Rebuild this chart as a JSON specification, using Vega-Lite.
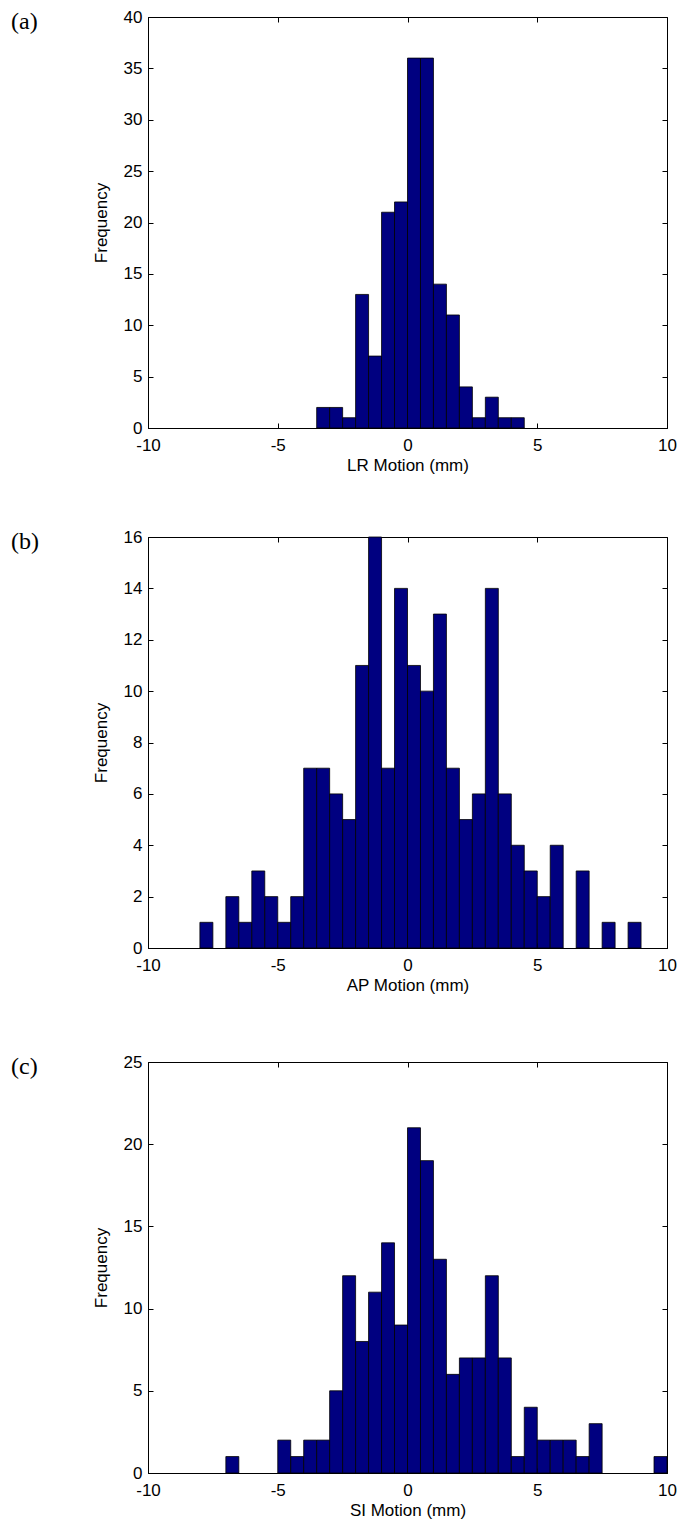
{
  "$schema": "https://vega.github.io/schema/vega-lite/v6.json",
  "background": "white",
  "padding": {"left": 10, "top": 7, "right": 0, "bottom": 5},
  "datasets": {
    "h": [
      {"p": "a", "s": -3.5, "e": -3, "n": 2},
      {"p": "a", "s": -3, "e": -2.5, "n": 2},
      {"p": "a", "s": -2.5, "e": -2, "n": 1},
      {"p": "a", "s": -2, "e": -1.5, "n": 13},
      {"p": "a", "s": -1.5, "e": -1, "n": 7},
      {"p": "a", "s": -1, "e": -0.5, "n": 21},
      {"p": "a", "s": -0.5, "e": 0, "n": 22},
      {"p": "a", "s": 0, "e": 0.5, "n": 36},
      {"p": "a", "s": 0.5, "e": 1, "n": 36},
      {"p": "a", "s": 1, "e": 1.5, "n": 14},
      {"p": "a", "s": 1.5, "e": 2, "n": 11},
      {"p": "a", "s": 2, "e": 2.5, "n": 4},
      {"p": "a", "s": 2.5, "e": 3, "n": 1},
      {"p": "a", "s": 3, "e": 3.5, "n": 3},
      {"p": "a", "s": 3.5, "e": 4, "n": 1},
      {"p": "a", "s": 4, "e": 4.5, "n": 1},
      {"p": "b", "s": -8, "e": -7.5, "n": 1},
      {"p": "b", "s": -7, "e": -6.5, "n": 2},
      {"p": "b", "s": -6.5, "e": -6, "n": 1},
      {"p": "b", "s": -6, "e": -5.5, "n": 3},
      {"p": "b", "s": -5.5, "e": -5, "n": 2},
      {"p": "b", "s": -5, "e": -4.5, "n": 1},
      {"p": "b", "s": -4.5, "e": -4, "n": 2},
      {"p": "b", "s": -4, "e": -3.5, "n": 7},
      {"p": "b", "s": -3.5, "e": -3, "n": 7},
      {"p": "b", "s": -3, "e": -2.5, "n": 6},
      {"p": "b", "s": -2.5, "e": -2, "n": 5},
      {"p": "b", "s": -2, "e": -1.5, "n": 11},
      {"p": "b", "s": -1.5, "e": -1, "n": 16},
      {"p": "b", "s": -1, "e": -0.5, "n": 7},
      {"p": "b", "s": -0.5, "e": 0, "n": 14},
      {"p": "b", "s": 0, "e": 0.5, "n": 11},
      {"p": "b", "s": 0.5, "e": 1, "n": 10},
      {"p": "b", "s": 1, "e": 1.5, "n": 13},
      {"p": "b", "s": 1.5, "e": 2, "n": 7},
      {"p": "b", "s": 2, "e": 2.5, "n": 5},
      {"p": "b", "s": 2.5, "e": 3, "n": 6},
      {"p": "b", "s": 3, "e": 3.5, "n": 14},
      {"p": "b", "s": 3.5, "e": 4, "n": 6},
      {"p": "b", "s": 4, "e": 4.5, "n": 4},
      {"p": "b", "s": 4.5, "e": 5, "n": 3},
      {"p": "b", "s": 5, "e": 5.5, "n": 2},
      {"p": "b", "s": 5.5, "e": 6, "n": 4},
      {"p": "b", "s": 6.5, "e": 7, "n": 3},
      {"p": "b", "s": 7.5, "e": 8, "n": 1},
      {"p": "b", "s": 8.5, "e": 9, "n": 1},
      {"p": "c", "s": -7, "e": -6.5, "n": 1},
      {"p": "c", "s": -5, "e": -4.5, "n": 2},
      {"p": "c", "s": -4.5, "e": -4, "n": 1},
      {"p": "c", "s": -4, "e": -3.5, "n": 2},
      {"p": "c", "s": -3.5, "e": -3, "n": 2},
      {"p": "c", "s": -3, "e": -2.5, "n": 5},
      {"p": "c", "s": -2.5, "e": -2, "n": 12},
      {"p": "c", "s": -2, "e": -1.5, "n": 8},
      {"p": "c", "s": -1.5, "e": -1, "n": 11},
      {"p": "c", "s": -1, "e": -0.5, "n": 14},
      {"p": "c", "s": -0.5, "e": 0, "n": 9},
      {"p": "c", "s": 0, "e": 0.5, "n": 21},
      {"p": "c", "s": 0.5, "e": 1, "n": 19},
      {"p": "c", "s": 1, "e": 1.5, "n": 13},
      {"p": "c", "s": 1.5, "e": 2, "n": 6},
      {"p": "c", "s": 2, "e": 2.5, "n": 7},
      {"p": "c", "s": 2.5, "e": 3, "n": 7},
      {"p": "c", "s": 3, "e": 3.5, "n": 12},
      {"p": "c", "s": 3.5, "e": 4, "n": 7},
      {"p": "c", "s": 4, "e": 4.5, "n": 1},
      {"p": "c", "s": 4.5, "e": 5, "n": 4},
      {"p": "c", "s": 5, "e": 5.5, "n": 2},
      {"p": "c", "s": 5.5, "e": 6, "n": 2},
      {"p": "c", "s": 6, "e": 6.5, "n": 2},
      {"p": "c", "s": 6.5, "e": 7, "n": 1},
      {"p": "c", "s": 7, "e": 7.5, "n": 3},
      {"p": "c", "s": 9.5, "e": 10, "n": 1}
    ]
  },
  "spacing": 53,
  "vconcat": [
    {
      "width": 519, "height": 411,
      "data": {"name": "h"},
      "transform": [{"filter": "datum.p === 'a'"}],
      "title": {"text": "(a)"},
      "layer": [
        {
          "mark": {"type": "bar", "fill": "#000080", "stroke": "#000", "strokeWidth": 0.8},
          "encoding": {
            "x": {"field": "s", "type": "quantitative", "scale": {"domain": [-10, 10], "nice": false, "zero": false}, "axis": {"values": [-10, -5, 0, 5, 10], "title": "LR Motion (mm)"}},
            "x2": {"field": "e"},
            "y": {"field": "n", "type": "quantitative", "scale": {"domain": [0, 40], "nice": false}, "axis": {"values": [0, 5, 10, 15, 20, 25, 30, 35, 40], "title": "Frequency"}},
            "y2": {"datum": 0}
          }
        },
        {
          "mark": {"type": "bar", "opacity": 0},
          "encoding": {
            "x": {"field": "s", "type": "quantitative", "axis": {"orient": "top", "values": [-10, -5, 0, 5, 10], "labels": false, "title": null, "domain": false}},
            "x2": {"field": "e"},
            "y": {"field": "n", "type": "quantitative", "axis": {"orient": "right", "values": [0, 5, 10, 15, 20, 25, 30, 35, 40], "labels": false, "title": null, "domain": false}},
            "y2": {"datum": 0}
          }
        }
      ],
      "resolve": {"axis": {"x": "independent", "y": "independent"}}
    },
    {
      "spacing": 58,
      "vconcat": [
        {
          "width": 519, "height": 411,
          "data": {"name": "h"},
          "transform": [{"filter": "datum.p === 'b'"}],
          "title": {"text": "(b)"},
          "layer": [
            {
              "mark": {"type": "bar", "fill": "#000080", "stroke": "#000", "strokeWidth": 0.8},
              "encoding": {
                "x": {"field": "s", "type": "quantitative", "scale": {"domain": [-10, 10], "nice": false, "zero": false}, "axis": {"values": [-10, -5, 0, 5, 10], "title": "AP Motion (mm)"}},
                "x2": {"field": "e"},
                "y": {"field": "n", "type": "quantitative", "scale": {"domain": [0, 16], "nice": false}, "axis": {"values": [0, 2, 4, 6, 8, 10, 12, 14, 16], "title": "Frequency"}},
                "y2": {"datum": 0}
              }
            },
            {
              "mark": {"type": "bar", "opacity": 0},
              "encoding": {
                "x": {"field": "s", "type": "quantitative", "axis": {"orient": "top", "values": [-10, -5, 0, 5, 10], "labels": false, "title": null, "domain": false}},
                "x2": {"field": "e"},
                "y": {"field": "n", "type": "quantitative", "axis": {"orient": "right", "values": [0, 2, 4, 6, 8, 10, 12, 14, 16], "labels": false, "title": null, "domain": false}},
                "y2": {"datum": 0}
              }
            }
          ],
          "resolve": {"axis": {"x": "independent", "y": "independent"}}
        },
        {
          "width": 519, "height": 411,
          "data": {"name": "h"},
          "transform": [{"filter": "datum.p === 'c'"}],
          "title": {"text": "(c)"},
          "layer": [
            {
              "mark": {"type": "bar", "fill": "#000080", "stroke": "#000", "strokeWidth": 0.8},
              "encoding": {
                "x": {"field": "s", "type": "quantitative", "scale": {"domain": [-10, 10], "nice": false, "zero": false}, "axis": {"values": [-10, -5, 0, 5, 10], "title": "SI Motion (mm)"}},
                "x2": {"field": "e"},
                "y": {"field": "n", "type": "quantitative", "scale": {"domain": [0, 25], "nice": false}, "axis": {"values": [0, 5, 10, 15, 20, 25], "title": "Frequency"}},
                "y2": {"datum": 0}
              }
            },
            {
              "mark": {"type": "bar", "opacity": 0},
              "encoding": {
                "x": {"field": "s", "type": "quantitative", "axis": {"orient": "top", "values": [-10, -5, 0, 5, 10], "labels": false, "title": null, "domain": false}},
                "x2": {"field": "e"},
                "y": {"field": "n", "type": "quantitative", "axis": {"orient": "right", "values": [0, 5, 10, 15, 20, 25], "labels": false, "title": null, "domain": false}},
                "y2": {"datum": 0}
              }
            }
          ],
          "resolve": {"axis": {"x": "independent", "y": "independent"}}
        }
      ]
    }
  ],
  "config": {
    "view": {"stroke": "#000", "strokeWidth": 1},
    "font": "Liberation Sans",
    "axis": {
      "grid": false,
      "domainColor": "#000",
      "tickColor": "#000",
      "tickSize": -5,
      "tickWidth": 1,
      "labelColor": "#000",
      "titleColor": "#000",
      "labelFont": "Liberation Sans",
      "titleFont": "Liberation Sans",
      "labelFontSize": 17,
      "titleFontSize": 17,
      "titleFontWeight": "normal",
      "labelFlush": false,
      "labelExpr": "datum.value < 0 ? '-' + abs(datum.value) : '' + datum.value"
    },
    "axisX": {"labelPadding": 14, "titlePadding": 4},
    "axisY": {"labelPadding": 11, "titlePadding": 13},
    "title": {
      "anchor": "start",
      "frame": "group",
      "orient": "top",
      "offset": 0,
      "baseline": "alphabetic",
      "dx": -137,
      "dy": 30,
      "font": "Liberation Serif",
      "fontSize": 24,
      "fontWeight": "normal",
      "color": "#000"
    }
  }
}
